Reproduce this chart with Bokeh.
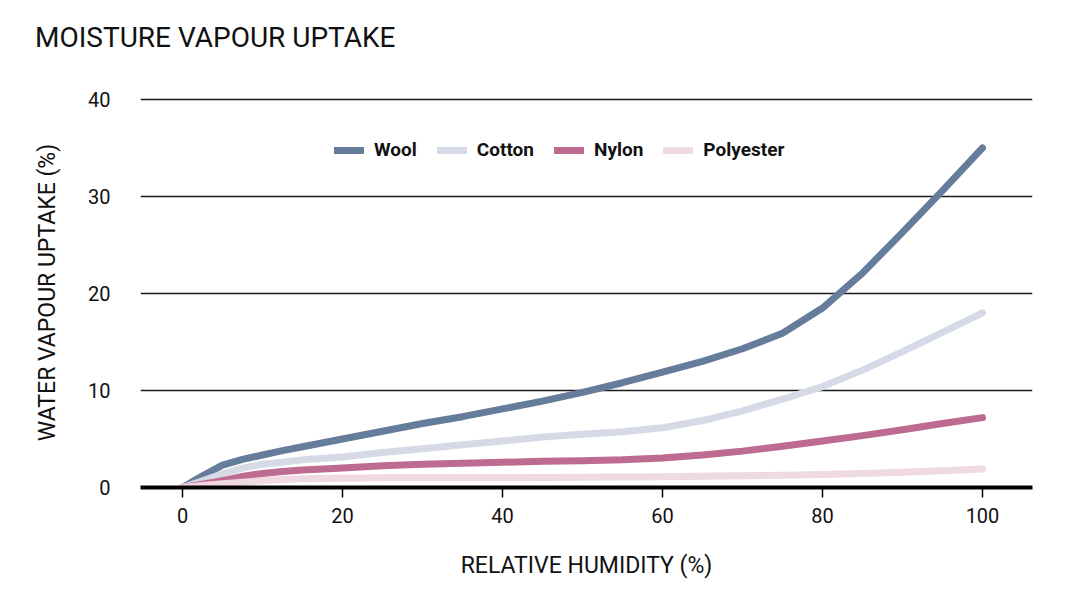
from bokeh.plotting import figure
from bokeh.embed import file_html
from bokeh.resources import INLINE
from bokeh.models import Range1d, FixedTicker, Legend, LegendItem, Div
from bokeh.layouts import column

humidity = [0, 2.5, 5, 7.5, 10, 12.5, 15, 20, 25, 30, 35, 40, 45, 50, 55, 60, 65, 70, 75, 80, 85, 90, 95, 100]
wool = [0, 1.2, 2.3, 2.9, 3.35, 3.8, 4.2, 5.0, 5.8, 6.6, 7.3, 8.1, 8.9, 9.8, 10.8, 11.9, 13.0, 14.3, 15.9, 18.5, 22.1, 26.3, 30.6, 35.0]
cotton = [0, 0.7, 1.4, 2.0, 2.4, 2.6, 2.85, 3.15, 3.6, 4.0, 4.4, 4.8, 5.2, 5.5, 5.75, 6.15, 6.9, 7.9, 9.1, 10.4, 12.1, 14.0, 16.0, 18.0]
nylon = [0, 0.35, 0.7, 1.15, 1.45, 1.65, 1.8, 2.0, 2.25, 2.4, 2.5, 2.6, 2.7, 2.75, 2.85, 3.05, 3.35, 3.75, 4.25, 4.8, 5.35, 5.95, 6.6, 7.2]
polyester = [0, 0.2, 0.4, 0.55, 0.7, 0.82, 0.9, 0.95, 1.0, 1.0, 1.0, 1.0, 1.02, 1.05, 1.07, 1.1, 1.15, 1.2, 1.27, 1.35, 1.45, 1.57, 1.72, 1.9]

series_names = ["Wool", "Cotton", "Nylon", "Polyester"]
series_values = [wool, cotton, nylon, polyester]
series_colors = ["#657c9b", "#d5dae6", "#bd6b90", "#efd9e2"]

x_ticks = [0, 20, 40, 60, 80, 100]
y_ticks = [0, 10, 20, 30, 40]

title_text = "MOISTURE VAPOUR UPTAKE"

FONT = "Roboto"
TITLE_H = 60

header = Div(text=('<div style="font-family: Roboto; font-size: 28px; color: #111111; '
                   'line-height: 28px; padding-top: 24px; padding-left: 35px; '
                   'white-space: nowrap;">' + title_text + '</div>'),
             width=1064, height=TITLE_H, margin=0)

p = figure(width=1064, height=584 - TITLE_H, output_backend="svg", toolbar_location=None,
           x_range=Range1d(-5.25, 106.25), y_range=Range1d(0, 40.2),
           min_border_left=140, min_border_right=32, min_border_top=97 - TITLE_H,
           min_border_bottom=97, margin=0)
p.outline_line_color = None
p.background_fill_color = "white"
p.border_fill_color = "white"

# grid
p.xgrid.grid_line_color = None
p.ygrid.ticker = FixedTicker(ticks=y_ticks)
p.ygrid.grid_line_color = "#1a1a1a"
p.ygrid.grid_line_width = 1.3

# x axis
p.xaxis.ticker = FixedTicker(ticks=x_ticks)
p.xaxis.axis_line_width = 4
p.xaxis.axis_line_color = "black"
p.xaxis.major_tick_line_color = "black"
p.xaxis.major_tick_line_width = 1.5
p.xaxis.major_tick_out = 10
p.xaxis.major_tick_in = 0
p.xaxis.minor_tick_line_color = None
p.xaxis.major_label_text_font = FONT
p.xaxis.major_label_text_font_size = "20px"
p.xaxis.major_label_text_color = "#111111"
p.xaxis.major_label_standoff = 10
p.xaxis.axis_label = "RELATIVE HUMIDITY (%)"
p.xaxis.axis_label_text_font = FONT
p.xaxis.axis_label_text_font_size = "23px"
p.xaxis.axis_label_text_font_style = "normal"
p.xaxis.axis_label_text_color = "#111111"
p.xaxis.axis_label_standoff = 26

# y axis
p.yaxis.ticker = FixedTicker(ticks=y_ticks)
p.yaxis.axis_line_color = None
p.yaxis.major_tick_line_color = None
p.yaxis.minor_tick_line_color = None
p.yaxis.major_label_text_font = FONT
p.yaxis.major_label_text_font_size = "20px"
p.yaxis.major_label_text_color = "#111111"
p.yaxis.major_label_standoff = 24
p.yaxis.axis_label = "WATER VAPOUR UPTAKE (%)"
p.yaxis.axis_label_text_font = FONT
p.yaxis.axis_label_text_font_size = "23px"
p.yaxis.axis_label_text_font_style = "normal"
p.yaxis.axis_label_text_color = "#111111"
p.yaxis.axis_label_standoff = 24

items = []
for name, vals, col in zip(series_names, series_values, series_colors):
    r = p.line(humidity, vals, line_color=col, line_width=7, line_cap="round", line_join="round")
    items.append(LegendItem(label=name, renderers=[r]))

legend = Legend(items=items, orientation="horizontal", location=(194, 326),
                background_fill_alpha=0, border_line_color=None,
                label_text_font=FONT, label_text_font_size="19px", label_text_font_style="bold",
                label_text_color="#111111", glyph_width=30, glyph_height=20,
                label_standoff=10, spacing=20, padding=0, margin=0, label_height=20)
p.add_layout(legend, "center")

layout = column(header, p, spacing=0, margin=0)

open("out.html", "w").write(file_html(layout, INLINE))
